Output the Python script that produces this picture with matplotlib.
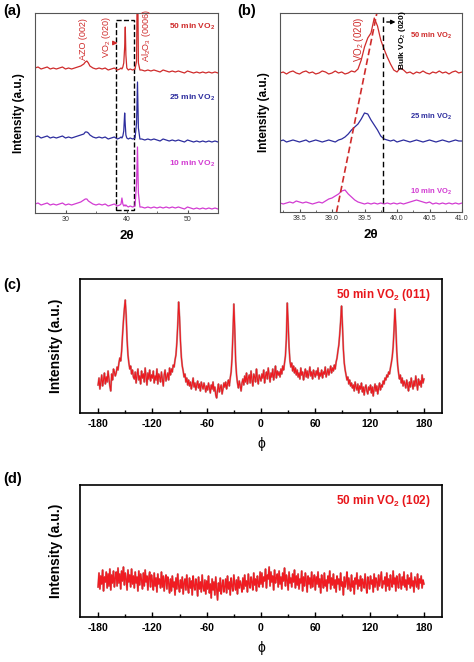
import numpy as np
import matplotlib.pyplot as plt
from matplotlib.patches import Rectangle

plt.rcParams['font.family'] = ['Liberation Sans', 'DejaVu Sans']
plt.rcParams['mathtext.fontset'] = 'custom'
plt.rcParams['mathtext.rm'] = 'Liberation Sans'
plt.rcParams['mathtext.bf'] = 'Liberation Sans:bold'
plt.rcParams['mathtext.it'] = 'Liberation Sans:italic'
plt.rcParams['axes.unicode_minus'] = False

# (a) wide 2theta scans, offset intensities (a.u.)
tt_a = [25.0, 25.5, 26.0, 26.5, 27.0, 27.5, 28.0, 28.5, 29.0, 29.5, 30.0, 30.5, 31.0, 31.5, 32.0, 32.5, 33.0,
        33.25, 33.5, 33.75,
        34.0, 34.5, 35.0, 35.5, 36.0, 36.5, 37.0, 37.5, 38.0, 38.5,
        38.9, 39.1, 39.25, 39.4, 39.55, 39.7, 39.8, 39.9, 40.05, 40.3, 40.6, 41.0, 41.4, 41.65, 41.8, 41.95, 42.2,
        42.5, 43.0, 43.5, 44.0, 44.5, 45.0, 45.5, 46.0, 46.5, 47.0, 47.5, 48.0, 48.5, 49.0, 49.5, 50.0,
        50.5, 51.0, 51.5, 52.0, 52.5, 53.0, 53.5, 54.0, 54.5, 55.0]
a_50 = [145, 146, 144, 145, 146, 144, 145, 144, 145, 146, 144, 145, 144, 145, 146, 147, 149,
        151, 152, 150,
        147, 145, 144, 145, 144, 145, 143, 144, 145, 143,
        144, 145, 144, 146, 150, 166, 186, 158, 145, 143, 144, 143, 144, 152, 260, 150, 143,
        143, 142, 143, 142, 143, 142, 141, 143, 142, 141, 142, 141, 142, 141, 140, 142,
        141, 140, 141, 140, 141, 140, 141, 140, 141, 140]
a_25 = [76, 77, 75, 76, 77, 75, 76, 75, 76, 77, 75, 76, 75, 76, 77, 78, 79,
        81, 81, 80,
        78, 76, 75, 76, 75, 76, 74, 75, 76, 74,
        75, 76, 75, 77, 82, 100, 88, 78, 75, 74, 75, 74, 75, 90, 131, 85, 74,
        74, 73, 74, 73, 74, 73, 72, 74, 73, 72, 73, 72, 73, 72, 71, 73,
        72, 71, 72, 71, 72, 71, 72, 71, 72, 71]
a_10 = [9, 10, 8, 9, 10, 8, 9, 8, 9, 10, 8, 9, 8, 9, 10, 11, 13,
        14, 14, 12,
        11, 9, 8, 9, 8, 9, 7, 8, 9, 7,
        8, 9, 15, 9, 7, 8, 7, 8, 7, 6, 7, 6, 7, 30, 66, 20, 6,
        6, 5, 6, 5, 6, 5, 6, 5, 6, 5, 6, 5, 6, 5, 4, 6,
        5, 4, 5, 4, 5, 4, 5, 4, 5, 4]

# (b) zoom on VO2 (020), 2theta 38.20 .. 41.00 in 0.05 steps
tt_b = np.linspace(38.2, 41.0, 57)
b_50 = [139, 140, 138, 140, 141, 139, 138, 140, 141, 139, 140, 138, 139, 141, 140, 138, 139, 141, 139, 140,
        138, 139, 141, 140, 143, 152, 165, 174, 179, 194, 186, 172, 163, 155, 148, 142, 140, 144, 142, 139,
        140, 138, 140, 139, 141, 139, 138, 140, 139, 141, 139, 140, 138, 140, 141, 139, 140]
b_25 = [71, 72, 70, 71, 72, 71, 70, 71, 72, 70, 71, 72, 71, 70, 71, 72, 71, 70, 72, 73,
        75, 78, 82, 85, 88, 93, 99, 98, 92, 87, 82, 76, 73, 72, 71, 72, 70, 71, 72, 71,
        70, 71, 72, 71, 70, 71, 72, 71, 70, 71, 72, 71, 70, 71, 72, 71, 71]
b_10 = [9, 8, 9, 10, 9, 11, 10, 9, 10, 9, 8, 9, 10, 9, 11, 13, 14, 16, 18, 21,
        22, 18, 15, 12, 10, 9, 8, 9, 8, 9, 8, 9, 8, 9, 8, 9, 8, 9, 8, 9,
        10, 11, 12, 11, 10, 9, 10, 8, 9, 8, 9, 8, 9, 8, 9, 8, 9]
bulk_020 = 39.79

# (c) phi scan VO2 (011), phi -180 .. 180 in 1 deg steps
phi = np.arange(-180, 181)
phi_011 = [28, 35, 24, 31, 38, 27, 33, 40, 29, 36, 31, 42, 34, 27, 22, 39, 33, 44, 41, 37,
           40, 46, 43, 50, 55, 52, 62, 78, 92, 104, 113, 98, 74, 58, 50, 44, 47, 39, 43, 36,
           34, 41, 30, 38, 44, 33, 37, 29, 42, 35, 39, 31, 45, 36, 28, 40, 34, 43, 32, 38,
           35, 42, 30, 37, 33, 44, 29, 39, 36, 31, 41, 34, 27, 38, 43, 32, 36, 40, 33, 45,
           38, 44, 41, 48, 46, 53, 58, 70, 88, 111, 96, 72, 56, 47, 42, 36, 39, 31, 35, 28,
           33, 27, 31, 24, 29, 35, 26, 30, 23, 28, 32, 25, 29, 22, 31, 27, 24, 30, 26, 21,
           27, 23, 30, 25, 20, 28, 24, 31, 22, 26, 18, 15, 23, 29, 21, 25, 28, 19, 24, 30,
           26, 31, 24, 29, 33, 27, 35, 41, 55, 80, 109, 84, 52, 38, 30, 25, 32, 27, 22, 30,
           34, 28, 37, 31, 40, 29, 35, 38, 30, 42, 33, 27, 39, 36, 31, 44, 34, 29, 38, 35,
           32, 39, 35, 43, 30, 37, 41, 34, 45, 38, 31, 40, 36, 44, 33, 39, 47, 35, 42, 38,
           41, 36, 44, 39, 47, 43, 50, 57, 74, 110, 90, 66, 52, 46, 50, 42, 47, 40, 45, 38,
           43, 36, 40, 34, 45, 38, 41, 33, 39, 44, 36, 42, 35, 40, 46, 37, 41, 34, 43, 39,
           36, 42, 38, 45, 34, 40, 37, 43, 35, 41, 39, 46, 36, 40, 44, 38, 42, 47, 40, 45,
           42, 48, 44, 51, 55, 62, 68, 79, 92, 107, 88, 64, 50, 43, 38, 33, 36, 29, 33, 27,
           30, 25, 28, 22, 31, 26, 23, 29, 20, 27, 24, 30, 21, 26, 18, 25, 28, 22, 19, 26,
           23, 28, 20, 26, 17, 24, 29, 22, 27, 19, 25, 30, 23, 28, 26, 32, 29, 35, 33, 38,
           36, 41, 39, 45, 50, 56, 66, 83, 104, 86, 62, 48, 40, 34, 38, 30, 35, 27, 32, 29,
           25, 33, 28, 22, 31, 26, 35, 29, 24, 32, 27, 37, 30, 23, 34, 28, 32, 26, 38, 30, 34]

# (d) phi scan VO2 (102)
phi_102 = [30, 44, 28, 41, 33, 47, 26, 40, 35, 45, 29, 43, 31, 48, 27, 42, 34, 46, 30, 39,
           45, 31, 49, 34, 43, 28, 46, 36, 50, 32, 44, 38, 27, 47, 35, 42, 30, 48, 33, 41,
           29, 45, 34, 40, 26, 46, 32, 43, 37, 28, 44, 31, 47, 35, 41, 27, 39, 45, 30, 42,
           36, 27, 44, 31, 39, 25, 43, 33, 38, 29, 45, 30, 41, 26, 37, 42, 28, 40, 34, 24,
           38, 26, 41, 30, 35, 22, 39, 28, 43, 31, 25, 37, 29, 40, 23, 34, 38, 27, 42, 30,
           24, 39, 29, 36, 22, 41, 31, 27, 38, 33, 21, 40, 28, 35, 25, 42, 30, 26, 37, 23,
           36, 28, 41, 24, 33, 19, 38, 27, 35, 22, 40, 29, 17, 34, 26, 39, 23, 31, 37, 25,
           30, 38, 24, 41, 28, 35, 22, 39, 31, 26, 42, 33, 27, 37, 23, 40, 29, 36, 32, 25,
           39, 28, 42, 31, 36, 25, 43, 33, 29, 40, 35, 27, 44, 32, 38, 26, 41, 34, 30, 45,
           33, 44, 30, 40, 36, 48, 29, 42, 38, 50, 31, 45, 35, 41, 27, 47, 34, 39, 43, 30,
           46, 33, 40, 28, 44, 36, 49, 31, 42, 37, 27, 45, 34, 39, 30, 43, 35, 47, 29, 41,
           32, 43, 28, 38, 34, 46, 26, 40, 31, 44, 36, 25, 41, 33, 39, 29, 45, 30, 37, 42,
           27, 40, 33, 45, 30, 38, 24, 42, 35, 29, 44, 31, 37, 26, 41, 34, 46, 28, 39, 32,
           43, 29, 37, 25, 41, 33, 38, 27, 44, 31, 35, 22, 40, 30, 36, 45, 28, 39, 32, 26,
           42, 30, 36, 23, 39, 33, 44, 28, 37, 31, 41, 26, 38, 34, 29, 43, 32, 24, 40, 35,
           28, 41, 33, 37, 25, 43, 30, 39, 35, 27, 42, 31, 38, 45, 29, 36, 33, 40, 26, 44,
           31, 38, 27, 42, 35, 30, 46, 33, 39, 26, 41, 34, 29, 43, 36, 28, 40, 32, 45, 30,
           37, 27, 42, 33, 39, 29, 44, 31, 36, 25, 40, 35, 30, 43, 28, 38, 34, 41, 29, 37, 33]

RED, BLUE, MAG = '#cf2b2b', '#2d2d9e', '#d23cd2'
W, H = 474, 662
fig = plt.figure(figsize=(W / 100, H / 100), dpi=100)


def box(l, t, r, b):
    return fig.add_axes([l / W, 1 - b / H, (r - l) / W, (b - t) / H])


def small_frame(ax):
    for s in ax.spines.values():
        s.set_color('#555555')
        s.set_linewidth(0.8)
    ax.set_yticks([])
    ax.tick_params(axis='x', which='both', direction='in', labelsize=5, colors='#555555',
                   labelcolor='#333333', pad=2)
    ax.tick_params(axis='x', which='major', length=2.5)
    ax.tick_params(axis='x', which='minor', length=1.5)
    ax.set_ylabel('Intensity (a.u.)', fontsize=8.5, fontweight='bold', labelpad=7)
    ax.set_xlabel('2θ', fontsize=9.5, fontweight='bold', labelpad=5)


# ---- (a)
ax = box(35, 13, 218, 213)
ax.plot(tt_a, a_10, color=MAG, lw=0.9)
ax.plot(tt_a, a_25, color=BLUE, lw=0.9)
ax.plot(tt_a, a_50, color=RED, lw=0.9)
ax.set_xlim(25, 55)
ax.set_ylim(0, 200)
ax.set_xticks([30, 40, 50])
ax.set_xticks(np.arange(25, 56, 5), minor=True)
small_frame(ax)
ax.add_patch(Rectangle((38.2, 3), 3.0, 190, fill=False, ls='--', lw=1.0, ec='k'))
ax.text(33.0, 153, 'AZO (002)', rotation=90, color=RED, fontsize=6.5, ha='center', va='bottom')
ax.text(36.7, 155, 'VO$_2$ (020)', rotation=90, color=RED, fontsize=6.5, ha='center', va='bottom')
ax.text(43.2, 151, 'Al$_2$O$_3$ (0006)', rotation=90, color=RED, fontsize=6.5, ha='center', va='bottom')
ax.annotate('', xy=(39.0, 170), xytext=(37.5, 170),
            arrowprops=dict(arrowstyle='-|>', color=RED, lw=1.0, mutation_scale=6))
ax.text(50.8, 186, '50 min VO$_\\mathbf{2}$', color=RED, fontsize=6, fontweight='bold', ha='center', va='center')
ax.text(50.8, 115, '25 min VO$_\\mathbf{2}$', color=BLUE, fontsize=6, fontweight='bold', ha='center', va='center')
ax.text(50.8, 49, '10 min VO$_\\mathbf{2}$', color=MAG, fontsize=6, fontweight='bold', ha='center', va='center')

# ---- (b)
ax = box(280, 13, 462, 212)
ax.plot(tt_b, b_10, color=MAG, lw=0.9)
ax.plot(tt_b, b_25, color=BLUE, lw=0.9)
ax.plot(tt_b, b_50, color=RED, lw=0.9)
ax.plot([39.07, 39.69], [0, 199], color=RED, ls='--', lw=1.2, dashes=(4, 2))
ax.axvline(bulk_020, color='k', ls='--', lw=1.0, dashes=(4, 2.5))
ax.set_xlim(38.2, 41.0)
ax.set_ylim(0, 199)
ax.set_xticks([38.5, 39.0, 39.5, 40.0, 40.5, 41.0])
ax.set_xticks(np.arange(38.25, 41.01, 0.25), minor=True)
ax.xaxis.set_major_formatter(plt.FormatStrFormatter('%.1f'))
small_frame(ax)
ax.text(39.41, 150, 'VO$_2$ (020)', rotation=90, color=RED, fontsize=7, ha='center', va='bottom')
ax.text(40.09, 142, 'Bulk VO$_2$ (020)', rotation=90, color='k', fontsize=6, fontweight='bold',
        ha='center', va='bottom')
ax.annotate('', xy=(40.02, 190), xytext=(39.8, 190),
            arrowprops=dict(arrowstyle='-|>', color='k', lw=1.0, mutation_scale=6))
ax.text(40.52, 176, '50 min VO$_\\mathbf{2}$', color=RED, fontsize=5.5, fontweight='bold', ha='center', va='center')
ax.text(40.52, 95, '25 min VO$_\\mathbf{2}$', color=BLUE, fontsize=5.5, fontweight='bold', ha='center', va='center')
ax.text(40.52, 20, '10 min VO$_\\mathbf{2}$', color=MAG, fontsize=5.5, fontweight='bold', ha='center', va='center')


def phi_frame(ax, label):
    ax.set_xlim(-200, 200)
    ax.set_xticks(np.arange(-180, 181, 60))
    ax.set_xticks(np.arange(-150, 151, 60), minor=True)
    ax.set_yticks([])
    for s in ax.spines.values():
        s.set_linewidth(1.2)
    ax.tick_params(axis='x', which='both', direction='in', labelsize=7.5, width=1.0, pad=4)
    ax.tick_params(axis='x', which='major', length=3.5)
    ax.tick_params(axis='x', which='minor', length=2)
    for t in ax.get_xticklabels():
        t.set_fontweight('bold')
    ax.set_ylabel('Intensity (a.u.)', fontsize=10, fontweight='bold', labelpad=12)
    ax.set_xlabel('ϕ', fontsize=10, labelpad=6)
    ax.text(0.97, 0.88, label, transform=ax.transAxes, color='#e8161b', fontsize=8.5,
            fontweight='bold', ha='right', va='center')


# ---- (c)
ax = box(80, 279, 442, 413)
ax.plot(phi, phi_011, color='#8a2a2a', lw=1.4, alpha=0.5)
ax.plot(phi, phi_011, color='#ec1a20', lw=0.8)
ax.set_ylim(0, 134)
phi_frame(ax, '50 min VO$_\\mathbf{2}$ (011)')

# ---- (d)
ax = box(80, 485, 442, 617)
ax.plot(phi, phi_102, color='#8a2a2a', lw=1.4, alpha=0.45)
ax.plot(phi, phi_102, color='#f01c22', lw=1.0)
ax.set_ylim(0, 132)
phi_frame(ax, '50 min VO$_\\mathbf{2}$ (102)')

for x, y, s in [(3, 11, '(a)'), (237, 11, '(b)'), (3, 285, '(c)'), (3, 479, '(d)')]:
    fig.text(x / W, 1 - y / H, s, fontsize=10.5, fontweight='bold', ha='left', va='center')

fig.savefig('out.png', dpi=100)
